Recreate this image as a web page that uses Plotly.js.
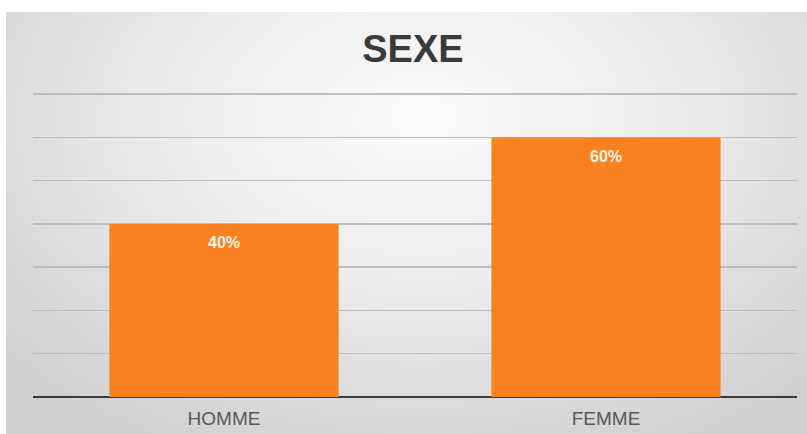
<!DOCTYPE html>
<html>
<head>
<meta charset="utf-8">
<script src="https://cdn.plot.ly/plotly-3.0.1.min.js"></script>
<style>
html,body{margin:0;padding:0;background:#ffffff;width:807px;height:434px;overflow:hidden;}
#chart{position:absolute;left:6px;top:12px;width:801px;height:422px;
background:radial-gradient(ellipse 70% 90% at 52% 25%, #fbfbfb 0%, #ececec 45%, #d6d6d6 85%, #cfcfcf 100%);}
</style>
</head>
<body>
<div id="chart"></div>
<script>
var categories = ["HOMME", "FEMME"];
var values = [0.40, 0.60];
var labels = ["40%", "60%"];
var titleText = "SEXE";

var trace = {
  type: "bar",
  x: categories,
  y: values,
  marker: {color: "#F7821F", line: {width: 0}},
  hoverinfo: "none"
};

var annotations = categories.map(function(c, i){
  return {x: c, y: values[i], xref: "x", yref: "y", text: "<b>" + labels[i] + "</b>",
    showarrow: false, yshift: -19, font: {family: "Liberation Sans, Arial, sans-serif", size: 16, color: "#fff3e6"}};
});

var layout = {
  width: 801, height: 422,
  paper_bgcolor: "rgba(0,0,0,0)",
  plot_bgcolor: "rgba(0,0,0,0)",
  margin: {l: 27, r: 10, t: 80, b: 37},
  bargap: 0.4,
  showlegend: false,
  title: {text: "<b>" + titleText + "</b>", x: 0.508, xanchor: "center", y: 0.913, yanchor: "middle",
    font: {family: "Liberation Sans, Arial, sans-serif", size: 38, color: "#3a3a3a"}},
  xaxis: {type: "category", showgrid: false, showline: false, ticks: "", zeroline: false,
    ticklabelstandoff: 8,
    tickfont: {family: "Liberation Sans, Arial, sans-serif", size: 19, color: "#595959"}},
  yaxis: {range: [0, 0.705], tickvals: [0.1, 0.2, 0.3, 0.4, 0.5, 0.6, 0.7], showticklabels: false, showgrid: true,
    gridcolor: "#bdbdbd", gridwidth: 1.5, zeroline: true, zerolinecolor: "#3a3a3a", zerolinewidth: 2,
    showline: false, ticks: ""},
  annotations: annotations
};

Plotly.newPlot("chart", [trace], layout, {displayModeBar: false, staticPlot: true});
</script>
</body>
</html>
